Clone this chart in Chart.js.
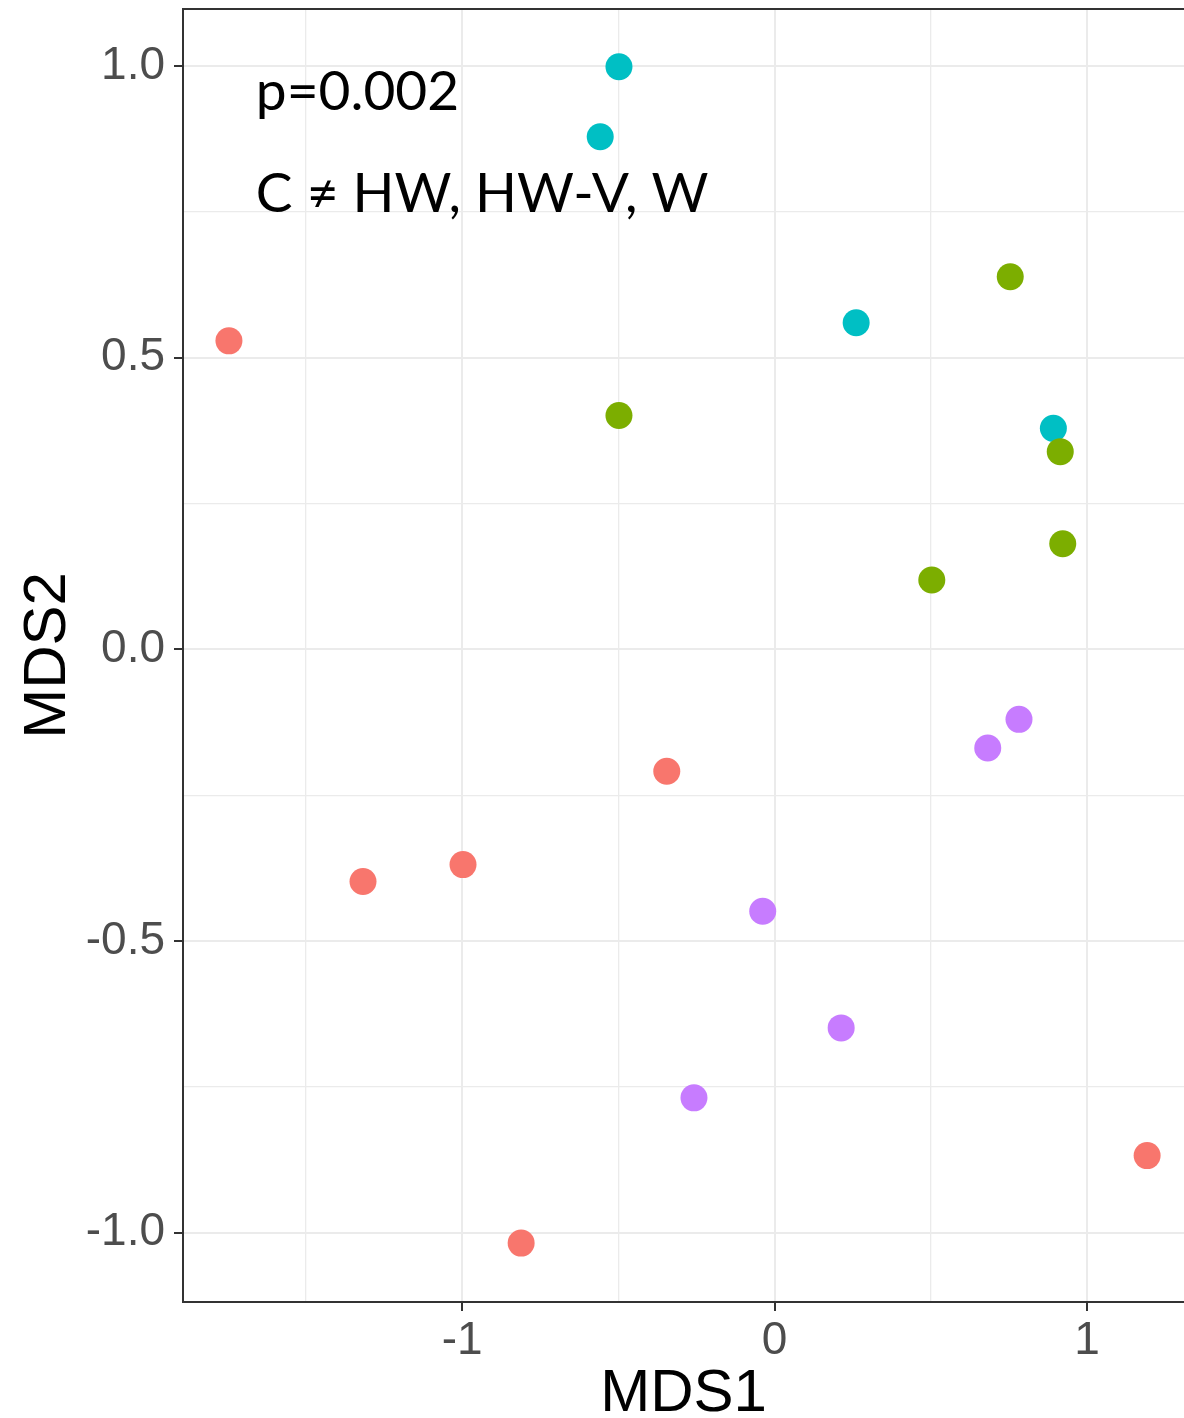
<!DOCTYPE html>
<html>
<head>
<meta charset="utf-8">
<title>NMDS ordination</title>
<script src="https://cdn.jsdelivr.net/npm/chart.js@4.4.1/dist/chart.umd.min.js"></script>
<style>
  html, body { margin: 0; padding: 0; background: #ffffff; }
  #wrap { width: 1184px; height: 1418px; position: relative; }
</style>
</head>
<body>
<div id="wrap"><canvas id="nmds"></canvas></div>
<script>
// Treatment groups and their colours (ggplot default hue palette)
const groups = ['C', 'HW', 'HW-V', 'W'];
const groupColors = ['#F8766D', '#7CAE00', '#00BFC4', '#C77CFF'];

// MDS1 / MDS2 scores per group
const mds1_C    = [-1.746, -0.345, -0.997, -1.317, -0.811, 1.192];
const mds2_C    = [ 0.529, -0.209, -0.369, -0.398, -1.018, -0.868];
const mds1_HW   = [ 0.754, -0.498,  0.914,  0.922,  0.503];
const mds2_HW   = [ 0.639,  0.401,  0.339,  0.181,  0.119];
const mds1_HWV  = [-0.498, -0.558,  0.261,  0.892];
const mds2_HWV  = [ 0.999,  0.879,  0.560,  0.379];
const mds1_W    = [ 0.782,  0.682, -0.038,  0.213, -0.258];
const mds2_W    = [-0.120, -0.169, -0.449, -0.649, -0.769];

// Axis ranges and tick positions
const xRange = [-1.893, 1.310];
const yRange = [-1.119, 1.098];
const xMajorTicks = [-1, 0, 1];
const xGridTicks  = [-1.5, -1, -0.5, 0, 0.5, 1];
const yMajorTicks = [-1, -0.5, 0, 0.5, 1];
const yGridTicks  = [-1, -0.75, -0.5, -0.25, 0, 0.25, 0.5, 0.75, 1];

// Statistics annotation (anchored in data units)
const annotationLines = ['p=0.002', 'C \u2260 HW, HW-V, W'];
const annotationX = -1.66;
const annotationY = [0.925, 0.750];

const xs = [mds1_C, mds1_HW, mds1_HWV, mds1_W];
const ys = [mds2_C, mds2_HW, mds2_HWV, mds2_W];

const datasets = groups.map((g, i) => ({
  label: g,
  data: xs[i].map((x, k) => ({ x: x, y: ys[i][k] })),
  backgroundColor: groupColors[i],
  borderWidth: 0,
  pointRadius: 13.5,
  pointHoverRadius: 13.5
}));

const isMajor = (v, list) => list.some(t => Math.abs(t - v) < 1e-9);

// Keep the panel edges exactly where the layout padding puts them
const noScalePadding = s => {
  s.paddingTop = 0;
  s.paddingBottom = 0;
  s.paddingLeft = 0;
  s.paddingRight = 0;
};

const panelBorder = {
  id: 'panelBorder',
  afterDraw(chart) {
    const { ctx, chartArea } = chart;
    ctx.save();
    ctx.strokeStyle = '#333333';
    ctx.lineWidth = 2;
    ctx.beginPath();
    ctx.moveTo(chartArea.left, chartArea.top);
    ctx.lineTo(chartArea.right, chartArea.top);
    ctx.stroke();
    ctx.restore();
  }
};

const statsText = {
  id: 'statsText',
  afterDraw(chart) {
    const { ctx, scales } = chart;
    ctx.save();
    ctx.fillStyle = '#000000';
    ctx.font = '55px Lato, "Open Sans", sans-serif';
    ctx.textAlign = 'left';
    ctx.textBaseline = 'alphabetic';
    annotationLines.forEach((t, i) => {
      ctx.fillText(t, scales.x.getPixelForValue(annotationX), scales.y.getPixelForValue(annotationY[i]));
    });
    ctx.restore();
  }
};

new Chart(document.getElementById('nmds'), {
  type: 'scatter',
  data: { datasets },
  options: {
    responsive: true,
    maintainAspectRatio: false,
    animation: false,
    layout: { padding: { top: 9, right: 0, bottom: 0, left: 0 }, autoPadding: false },
    plugins: {
      legend: { display: false },
      tooltip: { enabled: false }
    },
    scales: {
      x: {
        type: 'linear',
        min: xRange[0],
        max: xRange[1],
        afterBuildTicks: s => { s.ticks = xGridTicks.map(v => ({ value: v })); },
        afterFit: s => { s.height = 116; noScalePadding(s); },
        ticks: {
          autoSkip: false,
          maxRotation: 0,
          padding: 3,
          color: '#4D4D4D',
          font: { family: '"Liberation Sans", Arial, sans-serif', size: 46 },
          callback: v => isMajor(v, xMajorTicks) ? String(v) : ''
        },
        grid: {
          color: '#EBEBEB',
          lineWidth: c => isMajor(c.tick.value, xMajorTicks) ? 2 : 1.3,
          drawTicks: true,
          tickLength: 9,
          tickWidth: 2,
          tickColor: c => isMajor(c.tick.value, xMajorTicks) ? '#333333' : 'rgba(0,0,0,0)'
        },
        border: { display: true, color: '#333333', width: 2 },
        title: {
          display: true,
          text: 'MDS1',
          color: '#000000',
          font: { family: '"Liberation Sans", Arial, sans-serif', size: 60, lineHeight: 0.8 },
          padding: { top: 0, bottom: 0 }
        }
      },
      y: {
        type: 'linear',
        min: yRange[0],
        max: yRange[1],
        afterBuildTicks: s => { s.ticks = yGridTicks.map(v => ({ value: v })); },
        afterFit: s => { s.width = 183; noScalePadding(s); },
        ticks: {
          autoSkip: false,
          padding: 9,
          color: '#4D4D4D',
          font: { family: '"Liberation Sans", Arial, sans-serif', size: 46 },
          callback: v => isMajor(v, yMajorTicks) ? v.toFixed(1) : ''
        },
        grid: {
          color: '#EBEBEB',
          lineWidth: c => isMajor(c.tick.value, yMajorTicks) ? 2 : 1.3,
          drawTicks: true,
          tickLength: 9,
          tickWidth: 2,
          tickColor: c => isMajor(c.tick.value, yMajorTicks) ? '#333333' : 'rgba(0,0,0,0)'
        },
        border: { display: true, color: '#333333', width: 2 },
        title: {
          display: true,
          text: 'MDS2',
          color: '#000000',
          font: { family: '"Liberation Sans", Arial, sans-serif', size: 60, lineHeight: 0.8 },
          padding: { top: 24, bottom: 0 }
        }
      }
    }
  },
  plugins: [panelBorder, statsText]
});
</script>
</body>
</html>
